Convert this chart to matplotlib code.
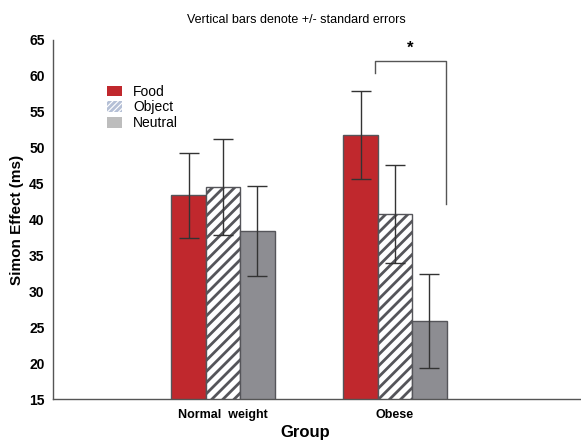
import numpy as np
import matplotlib
matplotlib.use("Agg")
import matplotlib.pyplot as plt
from matplotlib.patches import Patch

plt.rcParams["font.family"] = ["Liberation Sans", "DejaVu Sans"]
plt.rcParams["hatch.linewidth"] = 2.0
plt.rcParams["hatch.color"] = "#5a5a5e"

groups = ["Normal  weight", "Obese"]
conditions = ["Food", "Object", "Neutral"]
food_means = [43.4, 51.8]
food_se = [5.9, 6.1]
object_means = [44.5, 40.8]
object_se = [6.7, 6.8]
neutral_means = [38.4, 25.9]
neutral_se = [6.3, 6.5]

# significance bracket (Obese: Food vs Neutral)
bracket_x = [1.884, 2.297]
bracket_y = [60.4, 62.1, 42.2]

fig = plt.figure(figsize=(5.81, 4.44), dpi=100)
ax = fig.add_axes([0.0912, 0.101, 0.9088, 0.809])

x = np.array([1, 2])
w = 0.2
edge = "#55555a"
err_kw = dict(ecolor="#333333", elinewidth=1.0, capsize=7, capthick=1.0)

ax.bar(x - w, food_means, w, yerr=food_se, color="#c0282d",
       edgecolor=edge, linewidth=1.0, error_kw=err_kw, zorder=2)
ax.bar(x, object_means, w, yerr=object_se, color="white", hatch="///",
       edgecolor=edge, linewidth=1.0, error_kw=err_kw, zorder=2)
ax.bar(x + w, neutral_means, w, yerr=neutral_se, color="#8d8d92",
       edgecolor=edge, linewidth=1.0, error_kw=err_kw, zorder=2)

# bracket + star
ax.plot([bracket_x[0], bracket_x[0], bracket_x[1], bracket_x[1]],
        [bracket_y[0], bracket_y[1], bracket_y[1], bracket_y[2]],
        color="#555555", lw=1.0)
ax.text(np.mean(bracket_x), 63.8, "*", ha="center", va="center",
        fontsize=12, fontweight="bold")

ax.set_xlim(0.012, 3.081)
ax.set_ylim(15, 65)
ax.set_yticks(np.arange(15, 66, 5))
ax.set_xticks(x)
ax.set_xticklabels(groups)
ax.tick_params(axis="y", length=0, labelsize=10, pad=6)
ax.tick_params(axis="x", length=0, labelsize=9, pad=7)
for lab in ax.get_xticklabels() + ax.get_yticklabels():
    lab.set_fontweight("bold")

for side in ["top", "right"]:
    ax.spines[side].set_visible(False)
for side in ["left", "bottom"]:
    ax.spines[side].set_color("#555555")
    ax.spines[side].set_linewidth(1.0)

ax.set_ylabel("Simon Effect (ms)", fontsize=11, fontweight="bold", labelpad=4)
ax.set_xlabel("Group", fontsize=12, fontweight="bold", va="center")
ax.xaxis.set_label_coords(0.4785, -0.093)

fig.text(0.51, 0.955, "Vertical bars denote +/- standard errors",
         ha="center", va="center", fontsize=9)

handles = [
    Patch(facecolor="#c0282d", edgecolor="none"),
    Patch(facecolor="white", edgecolor="#b5c0d6", hatch="//////", linewidth=0),
    Patch(facecolor="#bdbdbd", edgecolor="none"),
]
leg = ax.legend(handles, conditions, loc="upper left",
                bbox_to_anchor=(0.078, 0.91), frameon=False, fontsize=10,
                handlelength=1.1, handleheight=0.8, labelspacing=0.12,
                handletextpad=0.8)

fig.savefig("out.png", dpi=100)
